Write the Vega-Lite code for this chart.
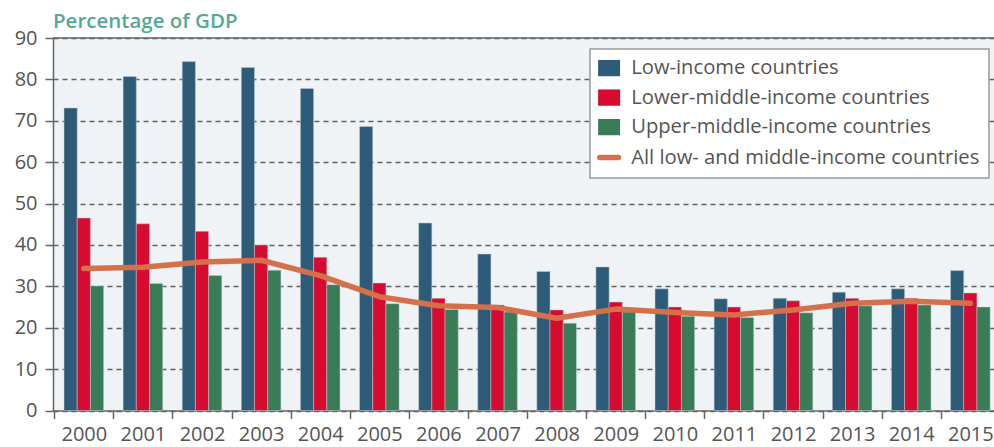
{
  "$schema": "https://vega.github.io/schema/vega-lite/v6.json",
  "width": 941,
  "height": 372.5,
  "autosize": {"type": "none"},
  "padding": {"left": 53, "top": 38, "right": 0, "bottom": 36.5},
  "background": "white",
  "title": {
    "text": "Percentage of GDP",
    "anchor": "start",
    "frame": "group",
    "font": "Open Sans",
    "fontSize": 20.5,
    "fontWeight": 600,
    "color": "#55a897",
    "baseline": "alphabetic",
    "offset": 11,
    "dy": 31
  },
  "config": {
    "view": {"fill": "#eff3f5", "stroke": null},
    "axis": {
      "labelFont": "Open Sans",
      "labelFontSize": 20,
      "labelColor": "#555555",
      "domainColor": "#666666",
      "domainWidth": 1.5,
      "tickColor": "#666666",
      "tickWidth": 1.5,
      "tickSize": 8,
      "title": null
    }
  },
  "data": {
    "values": [
      {"year": "2000", "series": "Low-income countries", "value": 73.1},
      {"year": "2001", "series": "Low-income countries", "value": 80.7},
      {"year": "2002", "series": "Low-income countries", "value": 84.3},
      {"year": "2003", "series": "Low-income countries", "value": 82.9},
      {"year": "2004", "series": "Low-income countries", "value": 77.8},
      {"year": "2005", "series": "Low-income countries", "value": 68.6},
      {"year": "2006", "series": "Low-income countries", "value": 45.3},
      {"year": "2007", "series": "Low-income countries", "value": 37.8},
      {"year": "2008", "series": "Low-income countries", "value": 33.6},
      {"year": "2009", "series": "Low-income countries", "value": 34.7},
      {"year": "2010", "series": "Low-income countries", "value": 29.4},
      {"year": "2011", "series": "Low-income countries", "value": 27.0},
      {"year": "2012", "series": "Low-income countries", "value": 27.1},
      {"year": "2013", "series": "Low-income countries", "value": 28.6},
      {"year": "2014", "series": "Low-income countries", "value": 29.4},
      {"year": "2015", "series": "Low-income countries", "value": 33.8},
      {"year": "2000", "series": "Lower-middle-income countries", "value": 46.5},
      {"year": "2001", "series": "Lower-middle-income countries", "value": 45.1},
      {"year": "2002", "series": "Lower-middle-income countries", "value": 43.3},
      {"year": "2003", "series": "Lower-middle-income countries", "value": 40.0},
      {"year": "2004", "series": "Lower-middle-income countries", "value": 37.0},
      {"year": "2005", "series": "Lower-middle-income countries", "value": 30.8},
      {"year": "2006", "series": "Lower-middle-income countries", "value": 27.1},
      {"year": "2007", "series": "Lower-middle-income countries", "value": 25.5},
      {"year": "2008", "series": "Lower-middle-income countries", "value": 24.3},
      {"year": "2009", "series": "Lower-middle-income countries", "value": 26.2},
      {"year": "2010", "series": "Lower-middle-income countries", "value": 25.0},
      {"year": "2011", "series": "Lower-middle-income countries", "value": 25.0},
      {"year": "2012", "series": "Lower-middle-income countries", "value": 26.5},
      {"year": "2013", "series": "Lower-middle-income countries", "value": 27.1},
      {"year": "2014", "series": "Lower-middle-income countries", "value": 27.1},
      {"year": "2015", "series": "Lower-middle-income countries", "value": 28.4},
      {"year": "2000", "series": "Upper-middle-income countries", "value": 30.1},
      {"year": "2001", "series": "Upper-middle-income countries", "value": 30.7},
      {"year": "2002", "series": "Upper-middle-income countries", "value": 32.6},
      {"year": "2003", "series": "Upper-middle-income countries", "value": 33.9},
      {"year": "2004", "series": "Upper-middle-income countries", "value": 30.4},
      {"year": "2005", "series": "Upper-middle-income countries", "value": 25.8},
      {"year": "2006", "series": "Upper-middle-income countries", "value": 24.4},
      {"year": "2007", "series": "Upper-middle-income countries", "value": 23.8},
      {"year": "2008", "series": "Upper-middle-income countries", "value": 21.1},
      {"year": "2009", "series": "Upper-middle-income countries", "value": 23.8},
      {"year": "2010", "series": "Upper-middle-income countries", "value": 22.8},
      {"year": "2011", "series": "Upper-middle-income countries", "value": 22.5},
      {"year": "2012", "series": "Upper-middle-income countries", "value": 23.6},
      {"year": "2013", "series": "Upper-middle-income countries", "value": 25.3},
      {"year": "2014", "series": "Upper-middle-income countries", "value": 25.5},
      {"year": "2015", "series": "Upper-middle-income countries", "value": 25.0},
      {"year": "2000", "series": "All low- and middle-income countries", "value": 34.3},
      {"year": "2001", "series": "All low- and middle-income countries", "value": 34.6},
      {"year": "2002", "series": "All low- and middle-income countries", "value": 35.9},
      {"year": "2003", "series": "All low- and middle-income countries", "value": 36.3},
      {"year": "2004", "series": "All low- and middle-income countries", "value": 32.6},
      {"year": "2005", "series": "All low- and middle-income countries", "value": 27.5},
      {"year": "2006", "series": "All low- and middle-income countries", "value": 25.3},
      {"year": "2007", "series": "All low- and middle-income countries", "value": 24.9},
      {"year": "2008", "series": "All low- and middle-income countries", "value": 22.3},
      {"year": "2009", "series": "All low- and middle-income countries", "value": 24.5},
      {"year": "2010", "series": "All low- and middle-income countries", "value": 23.7},
      {"year": "2011", "series": "All low- and middle-income countries", "value": 23.1},
      {"year": "2012", "series": "All low- and middle-income countries", "value": 24.3},
      {"year": "2013", "series": "All low- and middle-income countries", "value": 25.9},
      {"year": "2014", "series": "All low- and middle-income countries", "value": 26.4},
      {"year": "2015", "series": "All low- and middle-income countries", "value": 25.9}
    ]
  },
  "encoding": {
    "x": {
      "field": "year",
      "type": "ordinal",
      "scale": {"paddingInner": 0.33, "paddingOuter": 0.126, "align": 0.74, "round": false},
      "axis": {
        "labelAngle": 0,
        "bandPosition": 0,
        "tickOffset": -9.75,
        "labelOffset": 9.75,
        "labelPadding": 6,
        "grid": false
      }
    },
    "y": {
      "field": "value",
      "type": "quantitative",
      "scale": {"domain": [0, 90], "nice": false},
      "axis": {
        "values": [0, 10, 20, 30, 40, 50, 60, 70, 80, 90],
        "labelPadding": 8,
        "grid": true,
        "gridColor": "#626262",
        "gridWidth": 1.5,
        "gridDash": [5, 4]
      }
    },
    "color": {
      "field": "series",
      "type": "nominal",
      "scale": {
        "domain": [
          "Low-income countries",
          "Lower-middle-income countries",
          "Upper-middle-income countries",
          "All low- and middle-income countries"
        ],
        "range": ["#2e5c78", "#d60b2f", "#3a7c58", "#d5704a"]
      },
      "legend": {
        "title": null,
        "orient": "none",
        "legendX": 537,
        "legendY": 11,
        "fillColor": "white",
        "strokeColor": "#9a9a9a",
        "padding": 9,
        "labelFont": "Open Sans",
        "labelFontSize": 20.2,
        "labelColor": "#555555",
        "labelLimit": 420,
        "labelOffset": 12,
        "symbolSize": 484,
        "rowPadding": 8.5,
        "encode": {
          "legend": {"update": {"strokeWidth": {"value": 1.5}}},
          "symbols": {
            "update": {
              "shape": {"signal": "datum.value === 'All low- and middle-income countries' ? 'M-0.85,0H0.85' : 'M-1,-0.74H1V0.74H-1Z'"},
              "fill": {"signal": "datum.value === 'All low- and middle-income countries' ? 'transparent' : scale('color', datum.value)"},
              "stroke": {"scale": "color", "field": "value"},
              "strokeWidth": {"signal": "datum.value === 'All low- and middle-income countries' ? 5.5 : 0"},
              "strokeCap": {"value": "round"},
              "opacity": {"value": 1}
            }
          }
        }
      }
    }
  },
  "layer": [
    {
      "transform": [{"filter": "datum.series !== 'All low- and middle-income countries'"}],
      "mark": {"type": "bar", "stroke": "#c3d0d8", "strokeWidth": 0.6, "strokeOpacity": 0.8},
      "encoding": {
        "xOffset": {
          "field": "series",
          "type": "nominal",
          "sort": [
            "Low-income countries",
            "Lower-middle-income countries",
            "Upper-middle-income countries"
          ]
        }
      }
    },
    {
      "transform": [{"filter": "datum.series === 'All low- and middle-income countries'"}],
      "mark": {"type": "line", "strokeWidth": 5.5, "strokeCap": "round", "strokeJoin": "round"}
    },
    {
      "data": {"values": [{"top": 90}]},
      "mark": {"type": "rule", "color": "#666666", "strokeWidth": 1.5},
      "encoding": {
        "x": null,
        "color": null,
        "y": {"field": "top", "type": "quantitative"}
      }
    }
  ]
}
